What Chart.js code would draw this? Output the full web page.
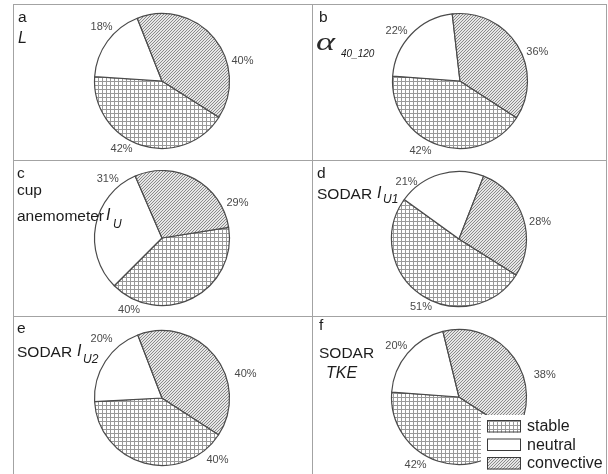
<!DOCTYPE html>
<html>
<head>
<meta charset="utf-8">
<script src="https://cdn.jsdelivr.net/npm/chart.js@4.4.1/dist/chart.umd.min.js"></script>
<style>
  html, body { margin: 0; padding: 0; background: #ffffff; }
  #wrap { position: relative; width: 608px; height: 474px; overflow: hidden;
          font-family: "Liberation Sans", Arial, sans-serif; color: #1c1c1c; }
  #wrap canvas { position: absolute; }
  .t { position: absolute; white-space: nowrap; }
  .rule { position: absolute; background: #a3a3a3; }
</style>
</head>
<body>
<div id="wrap"></div>
<script>
// Share of each stability class (%) per method, panels a–f
const panelLetters = ['a', 'b', 'c', 'd', 'e', 'f'];
const classes      = ['stable', 'neutral', 'convective'];
const stable       = [42, 42, 40, 51, 40, 42];
const neutral      = [18, 22, 31, 21, 20, 20];
const convective   = [40, 36, 29, 28, 40, 38];

// Panel layout: frame box, pie centre, start angle of the first slice,
// and where each percentage sits (angle from top, gap outside the rim).
const layout = [
  { box: [14, 5, 297, 154],  c: [162, 81],  rot: 122.5, spots: [[210.8, 11.5], [311.7, 13.5], [75.7, 15.5]] },
  { box: [313, 5, 293, 154], c: [460, 81],  rot: 123,   spots: [[209.6, 12.5], [308.5, 13.5], [69.5, 15]] },
  { box: [14, 161, 297, 154],  c: [162, 238], rot: 81,  spots: [[204.6, 11.5], [317.3, 12.5], [65.4, 15.5]] },
  { box: [313, 161, 293, 154], c: [459, 239], rot: 122.2, spots: [[209.2, 10.5], [317.4, 10], [78.1, 15.3]] },
  { box: [14, 317, 297, 157],  c: [162, 398], rot: 123, spots: [[138.4, 16], [314.3, 17], [74, 19.5]] },
  { box: [313, 317, 293, 157], c: [459, 397], rot: 123, spots: [[212.6, 13], [309.3, 13.5], [75.7, 21]] }
];
const PIE_R = 67.5;

const wrap = document.getElementById('wrap');

// ---- fill patterns ----
function gridPattern() {
  const c = document.createElement('canvas');
  c.width = 4; c.height = 4;
  const g = c.getContext('2d');
  g.fillStyle = '#ffffff'; g.fillRect(0, 0, 4, 4);
  g.fillStyle = '#999999';
  g.fillRect(0, 0, 4, 1);
  g.fillRect(0, 0, 1, 4);
  return g.createPattern(c, 'repeat');
}
function hatchPattern() {
  const c = document.createElement('canvas');
  c.width = 3; c.height = 3;
  const g = c.getContext('2d');
  g.fillStyle = '#e6e6e6'; g.fillRect(0, 0, 3, 3);
  g.fillStyle = '#8a8a8a';
  for (let i = 0; i < 3; i++) g.fillRect(i, 2 - i, 1, 1);
  return g.createPattern(c, 'repeat');
}

// ---- percentage labels around each pie ----
const pctLabels = {
  id: 'pctLabels',
  afterDatasetsDraw(chart, args, opts) {
    const ctx = chart.ctx;
    const meta = chart.getDatasetMeta(0);
    const vals = chart.data.datasets[0].data;
    ctx.save();
    ctx.font = '11px "Liberation Sans", Arial, sans-serif';
    ctx.fillStyle = '#4a4a4a';
    ctx.textAlign = 'center';
    ctx.textBaseline = 'middle';
    meta.data.forEach((arc, i) => {
      const [deg, gap] = opts.spots[i];
      const a = (deg - 90) * Math.PI / 180;
      const r = arc.outerRadius + gap;
      ctx.fillText(vals[i] + '%', arc.x + r * Math.cos(a), arc.y + r * Math.sin(a));
    });
    ctx.restore();
  }
};

// ---- key with pattern swatches (last panel only) ----
const keyBox = {
  id: 'keyBox',
  afterDraw(chart, args, o) {
    if (!o.show) return;
    const ctx = chart.ctx;
    const ds = chart.data.datasets[0];
    ctx.save();
    ctx.fillStyle = '#ffffff';
    ctx.fillRect(o.x, o.y, chart.width - o.x, chart.height - o.y);
    ctx.font = '16px "Liberation Sans", Arial, sans-serif';
    ctx.textAlign = 'left';
    ctx.textBaseline = 'alphabetic';
    chart.data.labels.forEach((lab, i) => {
      const y = o.y + 5 + i * o.step;
      ctx.fillStyle = ds.backgroundColor[i];
      ctx.fillRect(o.x + 6, y, 34, 12.5);
      ctx.strokeStyle = '#3c3c3c';
      ctx.lineWidth = 1;
      ctx.strokeRect(o.x + 6.5, y + 0.5, 33, 11.5);
      ctx.fillStyle = '#1c1c1c';
      ctx.fillText(lab, o.x + 46, y + 11);
    });
    ctx.restore();
  }
};

const fills = [gridPattern(), '#ffffff', hatchPattern()];

layout.forEach((p, i) => {
  const [bx, by, bw, bh] = p.box;
  const cv = document.createElement('canvas');
  cv.width = bw; cv.height = bh;
  cv.style.left = bx + 'px'; cv.style.top = by + 'px';
  wrap.appendChild(cv);
  const dx = p.c[0] - (bx + bw / 2);
  const dy = p.c[1] - (by + bh / 2);
  new Chart(cv, {
    type: 'pie',
    data: {
      labels: classes,
      datasets: [{
        data: [stable[i], neutral[i], convective[i]],
        backgroundColor: fills,
        borderColor: '#4a4a4a',
        borderWidth: 1.2,
        radius: PIE_R
      }]
    },
    options: {
      responsive: false,
      animation: false,
      events: [],
      rotation: p.rot,
      layout: { padding: {
        left: Math.max(0, 2 * dx), right: Math.max(0, -2 * dx),
        top: Math.max(0, 2 * dy), bottom: Math.max(0, -2 * dy)
      } },
      plugins: {
        legend: { display: false },
        tooltip: { enabled: false },
        pctLabels: { spots: p.spots },
        keyBox: { show: i === 5, x: 168, y: 98, step: 18.5 }
      }
    },
    plugins: [pctLabels, keyBox]
  });
});

// ---- panel captions ----
function txt(str, x, base, size, opt) {
  opt = opt || {};
  const d = document.createElement('div');
  d.className = 't';
  d.textContent = str;
  d.style.fontSize = size + 'px';
  d.style.lineHeight = size + 'px';
  if (opt.italic) d.style.fontStyle = 'italic';
  if (opt.family) d.style.fontFamily = opt.family;
  const k = opt.family ? 0.8375 : 0.8465;
  d.style.left = x + 'px';
  d.style.top = (base - k * size) + 'px';
  if (opt.sx) { d.style.transform = 'scaleX(' + opt.sx + ')'; d.style.transformOrigin = 'left'; }
  if (opt.color) d.style.color = opt.color;
  wrap.appendChild(d);
}
const F = 15.5;
txt(panelLetters[0], 18, 22, F);
txt('L', 18, 44, 16, { italic: true });

txt(panelLetters[1], 319, 22, F);
txt('\u03B1', 316, 50, 25, { italic: true, family: '"Liberation Serif", serif', sx: 1.45, color: '#2a2a2a' });
txt('40_120', 341, 57, 10, { italic: true });

txt(panelLetters[2], 17, 178, F);
txt('cup', 17, 195, F);
txt('anemometer', 17, 221, F);
txt('I', 106, 221, 16, { italic: true });
txt('U', 113, 228, 12, { italic: true });

txt(panelLetters[3], 317, 178, F);
txt('SODAR', 317, 199, F);
txt('I', 377, 199, 16, { italic: true });
txt('U1', 383, 203, 12, { italic: true });

txt(panelLetters[4], 17, 333, F);
txt('SODAR', 17, 357, F);
txt('I', 77, 357, 16, { italic: true });
txt('U2', 83, 363, 12, { italic: true });

txt(panelLetters[5], 319, 330, F);
txt('SODAR', 319, 358, F);
txt('TKE', 326, 379, 16, { italic: true });

// ---- frame and panel dividers ----
function rule(x, y, w, h) {
  const r = document.createElement('div');
  r.className = 'rule';
  r.style.left = x + 'px'; r.style.top = y + 'px';
  r.style.width = w + 'px'; r.style.height = h + 'px';
  wrap.appendChild(r);
}
rule(13, 4, 594, 1);
rule(13, 4, 1, 470);
rule(606, 4, 1, 470);
rule(312, 4, 1, 470);
rule(13, 160, 594, 1);
rule(13, 316, 594, 1);
</script>
</body>
</html>
